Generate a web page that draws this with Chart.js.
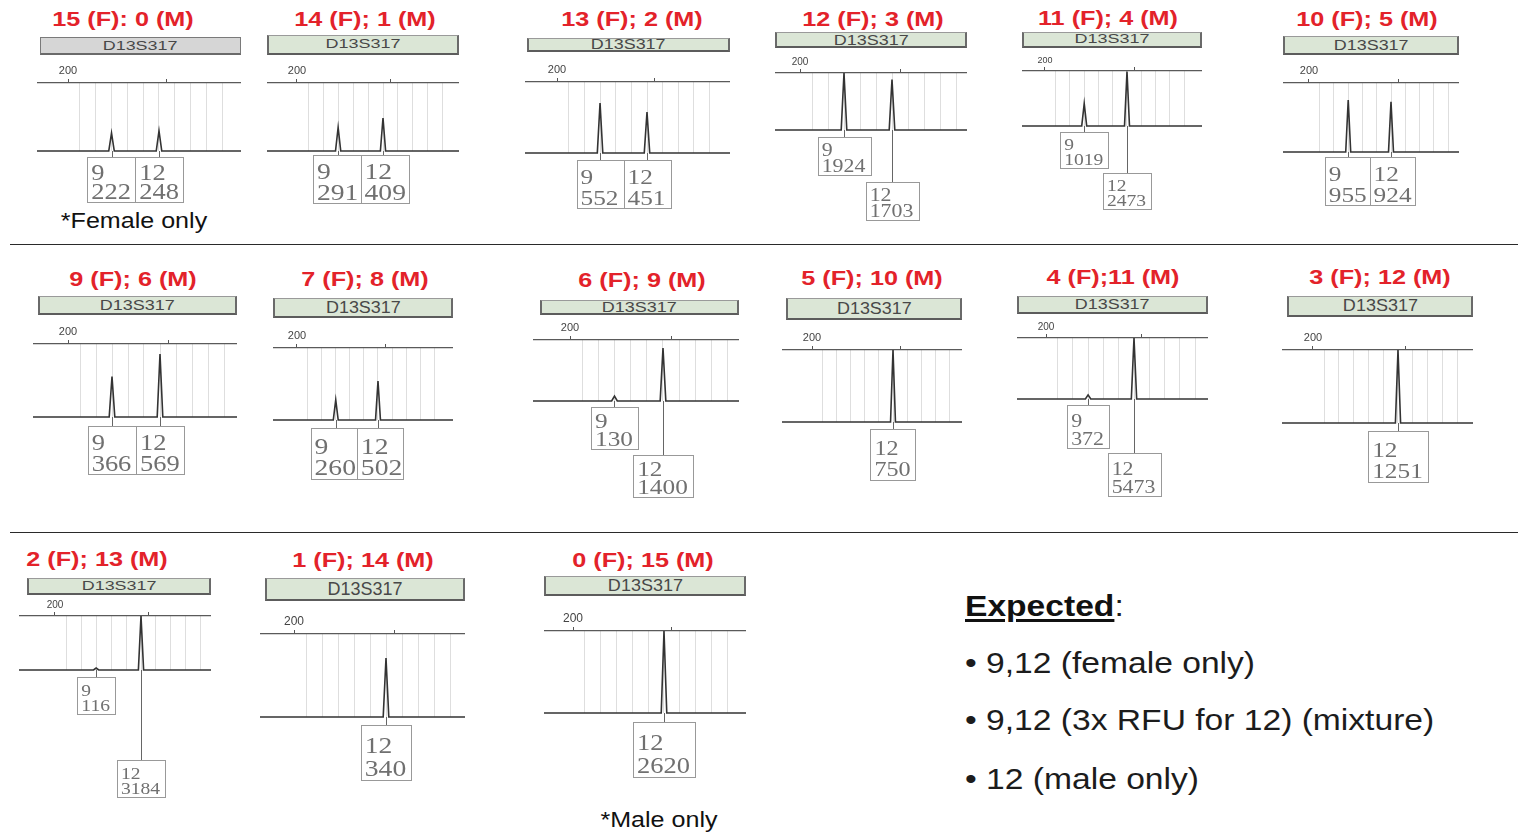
<!DOCTYPE html>
<html>
<head>
<meta charset="utf-8">
<script src="https://cdn.jsdelivr.net/npm/chart.js@4.4.1/dist/chart.umd.min.js"></script>
<style>
  html,body{margin:0;padding:0;background:#fff;}
  body{width:1518px;height:839px;overflow:hidden;position:relative;font-family:"Liberation Sans",Arial,sans-serif;}
  .ttl{position:absolute;font-weight:bold;font-size:21px;color:#e3222a;white-space:nowrap;transform:translate(-50%,-50%) scaleX(1.2);line-height:24px;}
  .bar{position:absolute;box-sizing:border-box;border:1px solid #9a9a9a;border-bottom:2px solid #5c5c5c;border-left:2px solid #6a6a6a;border-right:2px solid #6a6a6a;background:#dbe6d6;color:#484848;text-align:center;white-space:nowrap;overflow:visible;}
  .bar.grey{background:#d6d6d6;border:1px solid #7a7a7a;border-bottom:2px solid #6a6a6a;}
  .bar span{display:inline-block;transform-origin:50% 50%;}
  canvas{position:absolute;}
  .sep{position:absolute;left:10px;width:1508px;height:0;border-top:1.5px solid #2a2a2a;}
  .note{position:absolute;font-size:22px;color:#111;white-space:nowrap;transform:translate(-50%,-50%) scaleX(1.14);line-height:26px;}
  .exp{position:absolute;left:965px;font-size:30px;color:#1c1c1c;white-space:nowrap;transform-origin:0 50%;transform:scaleX(1.12);line-height:34px;}
</style>
</head>
<body>
<script>
// ---------------- DATA ----------------
const marker = "D13S317";
const panelTitles = ["15 (F): 0 (M)", "14 (F); 1 (M)", "13 (F); 2 (M)", "12 (F); 3 (M)", "11 (F); 4 (M)", "10 (F); 5 (M)",
                     "9 (F); 6 (M)", "7 (F); 8 (M)", "6 (F); 9 (M)", "5 (F); 10 (M)", "4 (F);11 (M)", "3 (F); 12 (M)",
                     "2 (F); 13 (M)", "1 (F); 14 (M)", "0 (F); 15 (M)"];
const alleles = [9, 12];
const alleleSizesBp = [211, 223];
const rfu9  = [222, 291, 552, 1924, 1019, 955, 366, 260, 130, null, 372, null, 116, null, null];
const rfu12 = [248, 409, 451, 1703, 2473, 924, 569, 502, 1400, 750, 5473, 1251, 3184, 340, 2620];
const yScaleMax = [840, 843, 784, 1924, 2500, 1267, 659, 927, 1611, 750, 5473, 1251, 3184, 478, 2620];
const axisTicksBp = [200, 225];
const axisTickLabels = ["200", ""];
const binSizesBp = [203, 207, 211, 215, 219, 223, 227, 231, 235, 239];
const notes = ["*Female only", "*Male only"];
const expectedTitle = "Expected";
const expectedItems = ["9,12 (female only)", "9,12 (3x RFU for 12) (mixture)", "12 (male only)"];

// ---------------- LAYOUT (positions / sizes only) ----------------
const layout = [
 {t:[123,19], bar:[40,37,241,55,13], plot:[37,241,83,151], p200:68, p12:159, lab:11, fs:23, bh:45, rows:[0,0], r0:6, grey:true},
 {t:[365,19], bar:[267,35,459,55,12.5], plot:[267,459,83,151], p200:297, p12:383, lab:11, fs:24, bh:48, rows:[0,0], r0:4},
 {t:[632,19], bar:[527,38,730,52,14], plot:[525,730,82,153], p200:557, p12:647, lab:11, fs:22, bh:48, rows:[0,0], r0:7},
 {t:[873,19], bar:[775,32,967,48,15], plot:[775,967,73,130], p200:800, p12:892, lab:10, fs:19, bh:38, rows:[0,1], r0:7, r1:52},
 {t:[1108,18], bar:[1022,32,1202,48,12], plot:[1022,1202,71,126], p200:1045, p12:1127, lab:9, fs:17, bh:36, rows:[0,1], r0:6, r1:47},
 {t:[1367,19], bar:[1283,36,1459,55,14], plot:[1283,1459,83,152], p200:1309, p12:1391, lab:11, fs:22, bh:48, rows:[0,0], r0:5},
 {t:[133,279], bar:[38,296,237,315,15], plot:[33,237,344,417], p200:68, p12:160, lab:11, fs:23, bh:48, rows:[0,0], r0:9},
 {t:[365,279], bar:[273,298,453,318,16], plot:[273,453,348,420], p200:297, p12:378, lab:11, fs:24, bh:51, rows:[0,0], r0:8},
 {t:[642,280], bar:[540,300,739,315,15], plot:[533,739,340,401], p200:570, p12:663, lab:11, fs:22, bh:42, rows:[0,1], r0:6, r1:54},
 {t:[872,278], bar:[786,298,962,320,16], plot:[782,962,350,422], p200:812, p12:893, lab:11, fs:21, bh:51, rows:[0,0], r0:7},
 {t:[1113,277], bar:[1017,296,1208,314,14], plot:[1017,1208,338,399], p200:1046, p12:1134, lab:10, fs:19, bh:43, rows:[0,1], r0:6, r1:54},
 {t:[1380,277], bar:[1287,296,1473,317,17], plot:[1282,1473,350,423], p200:1313, p12:1398, lab:11, fs:22, bh:51, rows:[0,0], r0:8},
 {t:[97,559], bar:[27,578,211,595,13], plot:[19,211,616,670], p200:55, p12:141, lab:10, fs:17, bh:37, rows:[0,1], r0:7, r1:90},
 {t:[363,560], bar:[265,578,465,601,18], plot:[260,465,634,717], p200:294, p12:386, lab:12, fs:24, bh:55, rows:[0,0], r0:8},
 {t:[643,560], bar:[544,576,746,596,17], plot:[544,746,631,713], p200:573, p12:664, lab:12, fs:23, bh:55, rows:[0,0], r0:9}
];
const notePos = [[134,221],[659,820]];
const sepY = [245, 533];
const expY = [606, 663, 720, 779];
const PAD_T = 22;

// ---------------- plugin: allele call boxes ----------------
const callBoxes = {
  id: 'callBoxes',
  afterDraw(chart, args, o) {
    const ctx = chart.ctx, xs = chart.scales.x, ys = chart.scales.y;
    const base = ys.getPixelForValue(0);
    const sx = 1.15;
    ctx.save();
    ctx.font = o.fs + 'px "Liberation Serif", "Times New Roman", serif';
    const boxes = o.items.map(it => {
      const px = xs.getPixelForValue(it.bp);
      const tw = Math.max(ctx.measureText(it.a).width, ctx.measureText(it.v).width) * sx;
      const w = tw + 9;
      const top = base + (it.row === 0 ? o.r0 : o.r1);
      return {px, l: px - w / 2, r: px + w / 2, top, it};
    });
    for (let k = 1; k < boxes.length; k++) {
      const p = boxes[k - 1], c = boxes[k];
      if (p.top === c.top && p.r > c.l) { const m = (p.px + c.px) / 2; p.r = m; c.l = m; }
    }
    boxes.forEach(b => {
      ctx.strokeStyle = '#666'; ctx.lineWidth = 1;
      ctx.beginPath(); ctx.moveTo(Math.round(b.px) + 0.5, base); ctx.lineTo(Math.round(b.px) + 0.5, b.top); ctx.stroke();
      ctx.strokeStyle = '#999';
      ctx.strokeRect(Math.round(b.l) + 0.5, Math.round(b.top) + 0.5, Math.round(b.r - b.l), o.bh);
      ctx.fillStyle = '#707070';
      ctx.textBaseline = 'alphabetic'; ctx.textAlign = 'left';
      [[b.it.a, 0.5], [b.it.v, 0.93]].forEach(([t, f]) => {
        ctx.save();
        ctx.translate(b.l + 4, b.top + o.bh * f);
        ctx.scale(sx, 1);
        ctx.fillText(t, 0, 0);
        ctx.restore();
      });
    });
    ctx.restore();
  }
};

function el(tag, cls, style, text) {
  const e = document.createElement(tag);
  if (cls) e.className = cls;
  Object.assign(e.style, style || {});
  if (text != null) e.textContent = text;
  document.body.appendChild(e);
  return e;
}

// separators
sepY.forEach(y => el('div', 'sep', {top: (y - 1) + 'px'}));

// panels
layout.forEach((L, i) => {
  el('div', 'ttl', {left: L.t[0] + 'px', top: L.t[1] + 'px'}, panelTitles[i]);
  const [bx0, by0, bx1, by1, bf] = L.bar;
  const bar = el('div', 'bar' + (L.grey ? ' grey' : ''), {
    left: bx0 + 'px', top: by0 + 'px', width: (bx1 - bx0) + 'px', height: (by1 - by0) + 'px',
    fontSize: bf + 'px', lineHeight: (by1 - by0 - 3) + 'px'
  });
  const sp = document.createElement('span');
  sp.textContent = marker;
  sp.style.transform = 'scaleX(' + Math.max(1, 75 / (4.17 * bf)).toFixed(2) + ')';
  bar.appendChild(sp);

  const [pl, pr, pt, pb] = L.plot;
  const ppb = (L.p12 - L.p200) / (alleleSizesBp[1] - 200);
  const xmin = 200 - (L.p200 - pl) / ppb;
  const xmax = 200 + (pr - L.p200) / ppb;
  const vals = [rfu9[i], rfu12[i]];

  const pts = [{x: xmin, y: 0}];
  const items = [];
  alleleSizesBp.forEach((bp, k) => {
    if (vals[k] == null) return;
    pts.push({x: bp - 0.7, y: 0}, {x: bp, y: vals[k]}, {x: bp + 0.7, y: 0});
    items.push({bp, a: String(alleles[k]), v: String(vals[k]), row: L.rows[k]});
  });
  pts.push({x: xmax, y: 0});

  const maxRow = Math.max(...items.map(it => it.row === 0 ? L.r0 : L.r1));
  const padB = maxRow + L.bh + 4;
  const W = pr - pl, H = PAD_T + (pb - pt) + padB;
  const cv = el('canvas', null, {left: pl + 'px', top: (pt - PAD_T) + 'px'});
  cv.width = W; cv.height = H;

  new Chart(cv, {
    type: 'line',
    data: {datasets: [{data: pts, borderColor: '#333', borderWidth: 1.6, pointRadius: 0, tension: 0, fill: false, clip: false}]},
    options: {
      responsive: false, maintainAspectRatio: false, animation: false,
      layout: {padding: {left: 0, right: 0, top: 0, bottom: padB}},
      plugins: {legend: {display: false}, tooltip: {enabled: false},
        callBoxes: {items, fs: L.fs, bh: L.bh, r0: L.r0, r1: L.r1}},
      scales: {
        x: {
          type: 'linear', position: 'top', min: xmin, max: xmax,
          afterBuildTicks: s => { s.ticks = axisTicksBp.map(v => ({value: v})); },
          afterFit: s => { s.height = PAD_T; },
          ticks: {callback: (v, idx) => axisTickLabels[idx], autoSkip: false, maxRotation: 0,
                  font: {size: L.lab, family: '"Liberation Sans", Arial'}, color: '#444', padding: 1},
          grid: {drawOnChartArea: false, drawTicks: true, tickLength: 4, color: '#555', lineWidth: 1},
          border: {display: true, color: '#5a5a5a', width: 1.3}
        },
        xb: {
          type: 'linear', position: 'bottom', min: xmin, max: xmax,
          afterBuildTicks: s => { s.ticks = binSizesBp.map(v => ({value: v})); },
          afterFit: s => { s.height = 0; },
          ticks: {display: false},
          grid: {color: '#dedede', lineWidth: 1, drawTicks: false, drawOnChartArea: true},
          border: {display: false}
        },
        y: {display: false, min: 0, max: yScaleMax[i]}
      }
    },
    plugins: [callBoxes]
  });
});

// notes
notes.forEach((n, k) => el('div', 'note', {left: notePos[k][0] + 'px', top: notePos[k][1] + 'px'}, n));

// expected block
const h = el('div', 'exp', {top: (expY[0] - 17) + 'px'});
const u = document.createElement('span');
u.textContent = expectedTitle;
Object.assign(u.style, {fontWeight: 'bold', textDecoration: 'underline', textDecorationThickness: '3px', textUnderlineOffset: '3px', color: '#111'});
h.appendChild(u);
h.appendChild(document.createTextNode(':'));
expectedItems.forEach((t, k) => el('div', 'exp', {top: (expY[k + 1] - 17) + 'px'}, '\u2022 ' + t));
</script>
</body>
</html>
